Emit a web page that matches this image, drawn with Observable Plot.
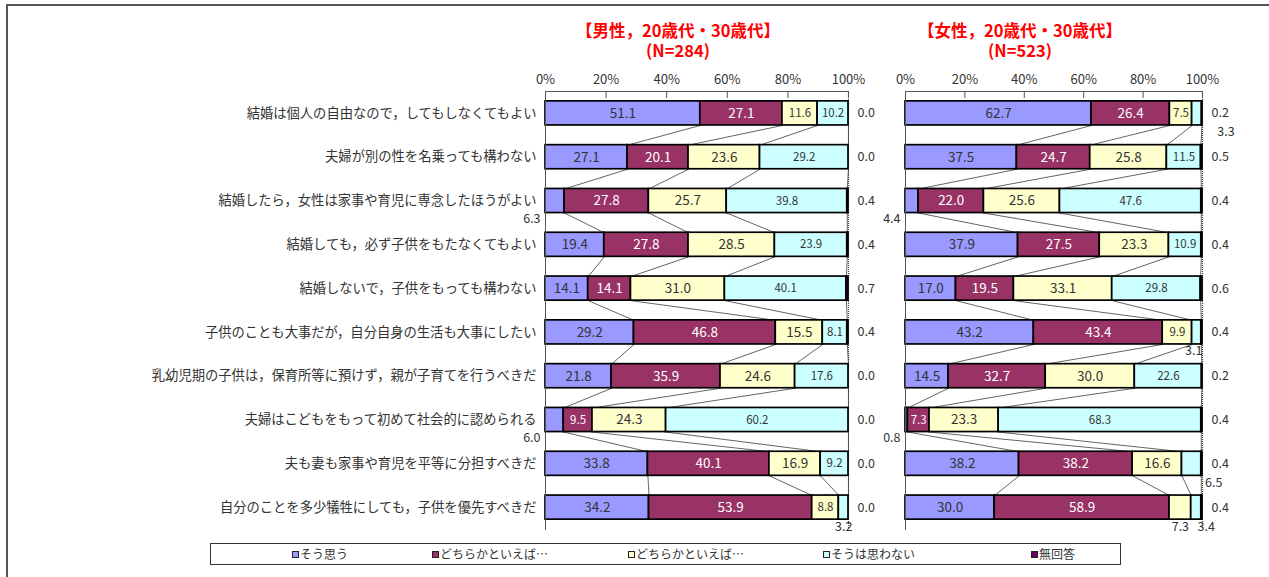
<!DOCTYPE html>
<html>
<head>
<meta charset="utf-8">
<script src="https://cdn.jsdelivr.net/npm/d3@7"></script>
<script src="https://cdn.jsdelivr.net/npm/@observablehq/plot@0.6"></script>
<style>
  html, body { margin: 0; padding: 0; background: #fff; }
  #wrap { position: relative; width: 1269px; height: 577px; overflow: hidden; font-family: "Noto Sans CJK JP", "Noto Sans", sans-serif; color: #333; }
  #frame { position: absolute; left: 6px; top: 4px; width: 1300px; height: 600px; border-left: 2px solid #555; border-top: 2px solid #555; }
  .panel { position: absolute; top: 0; }
  .title { position: absolute; top: 20px; width: 300px; margin-left: -150px; text-align: center; color: #ff0000; font-weight: bold; font-size: 16.5px; line-height: 20px; white-space: pre; }
  #legend { position: absolute; left: 210px; top: 543px; width: 911px; height: 22px; border: 1px solid #333; box-sizing: border-box; font-size: 12px; }
  .item { position: absolute; top: 0; height: 20px; line-height: 20px; white-space: nowrap; }
  .sw { display: inline-block; width: 5px; height: 5px; border: 1px solid #222; margin-right: 1px; vertical-align: 1px; }
</style>
</head>
<body>
<div id="wrap">
  <div id="frame"></div>
</div>
<script>
// ---- data ----
const STATEMENTS = [
  "結婚は個人の自由なので，してもしなくてもよい",
  "夫婦が別の性を名乗っても構わない",
  "結婚したら，女性は家事や育児に専念したほうがよい",
  "結婚しても，必ず子供をもたなくてもよい",
  "結婚しないで，子供をもっても構わない",
  "子供のことも大事だが，自分自身の生活も大事にしたい",
  "乳幼児期の子供は，保育所等に預けず，親が子育てを行うべきだ",
  "夫婦はこどもをもって初めて社会的に認められる",
  "夫も妻も家事や育児を平等に分担すべきだ",
  "自分のことを多少犠牲にしても，子供を優先すべきだ"
];
const CATEGORIES = ["そう思う", "どちらかといえば…", "どちらかといえば…", "そうは思わない", "無回答"];
const TICKS = [0, 20, 40, 60, 80, 100];

const MEN_TITLE = "【男性，20歳代・30歳代】";
const MEN_N = "(N=284)";
const MEN_AGREE          = [51.1, 27.1,  6.3, 19.4, 14.1, 29.2, 21.8,  6.0, 33.8, 34.2];
const MEN_RATHER_AGREE   = [27.1, 20.1, 27.8, 27.8, 14.1, 46.8, 35.9,  9.5, 40.1, 53.9];
const MEN_RATHER_DISAGREE= [11.6, 23.6, 25.7, 28.5, 31.0, 15.5, 24.6, 24.3, 16.9,  8.8];
const MEN_DISAGREE       = [10.2, 29.2, 39.8, 23.9, 40.1,  8.1, 17.6, 60.2,  9.2,  3.2];
const MEN_NO_ANSWER      = [ 0.0,  0.0,  0.4,  0.4,  0.7,  0.4,  0.0,  0.0,  0.0,  0.0];

const WOMEN_TITLE = "【女性，20歳代・30歳代】";
const WOMEN_N = "(N=523)";
const WOMEN_AGREE          = [62.7, 37.5,  4.4, 37.9, 17.0, 43.2, 14.5,  0.8, 38.2, 30.0];
const WOMEN_RATHER_AGREE   = [26.4, 24.7, 22.0, 27.5, 19.5, 43.4, 32.7,  7.3, 38.2, 58.9];
const WOMEN_RATHER_DISAGREE= [ 7.5, 25.8, 25.6, 23.3, 33.1,  9.9, 30.0, 23.3, 16.6,  7.3];
const WOMEN_DISAGREE       = [ 3.3, 11.5, 47.6, 10.9, 29.8,  3.1, 22.6, 68.3,  6.5,  3.4];
const WOMEN_NO_ANSWER      = [ 0.2,  0.5,  0.4,  0.4,  0.6,  0.4,  0.2,  0.4,  0.4,  0.4];

// ---- styling (not data) ----
const COLORS = ["#9999ff", "#993366", "#ffffcc", "#ccffff", "#660066"];
const FONT = "'Noto Sans CJK JP', 'Noto Sans', sans-serif";
const HALF = 0.275; // half bar thickness in row units

// labels drawn outside their segment: key "row-series"
const MEN_OUTSIDE = { "2-0": {mode: "left"}, "7-0": {mode: "left"}, "9-3": {mode: "below", dx: 0} };
const WOMEN_OUTSIDE = {
  "2-0": {mode: "left"}, "7-0": {mode: "left"},
  "0-3": {mode: "below", dx: 29}, "5-3": {mode: "below", dx: -3},
  "8-3": {mode: "below", dx: 22}, "9-2": {mode: "below", dx: 0}, "9-3": {mode: "below", dx: 10}
};

function buildSegments(series) {
  const segs = [];
  const bounds = [];
  STATEMENTS.forEach((_, i) => {
    const vals = series.map(s => s[i]);
    const total = d3.sum(vals);
    let c = 0;
    const b = [];
    vals.forEach((v, k) => {
      const x1 = c / total * 100;
      c += v;
      const x2 = c / total * 100;
      segs.push({row: i, k, v, x1, x2, mid: (x1 + x2) / 2});
      b.push(x2);
    });
    bounds.push(b);
  });
  return {segs, bounds};
}

function panel(series, opts) {
  const {segs, bounds} = buildSegments(series);
  const links = [];
  for (let i = 0; i < STATEMENTS.length - 1; i++) {
    for (let k = 0; k < 4; k++) {
      links.push({x1: bounds[i][k], y1: i + HALF, x2: bounds[i + 1][k], y2: i + 1 - HALF});
    }
  }
  const outside = opts.outside;
  const main = segs.filter(d => d.k < 4);
  const inside = main.filter(d => !outside[`${d.row}-${d.k}`]);
  const outs = main.filter(d => outside[`${d.row}-${d.k}`]);
  const na = segs.filter(d => d.k === 4);

  const marks = [
    Plot.link(links, {x1: "x1", y1: "y1", x2: "x2", y2: "y2", stroke: "#222", strokeWidth: 0.7}),
    Plot.ruleX([100], {stroke: "#444", strokeWidth: 1.2, strokeDasharray: "1,1"}),
    Plot.rect(segs, {x1: "x1", x2: "x2", y1: d => d.row - HALF, y2: d => d.row + HALF,
      fill: d => COLORS[d.k], stroke: "#000", strokeWidth: 1.7}),
    Plot.frame({anchor: "top", stroke: "#555"}),
    Plot.frame({anchor: "left", stroke: "#555"}),
    Plot.axisX(TICKS, {anchor: "top", tickFormat: d => d + "%", tickSize: -6, tickPadding: 14,
      fontSize: 13, stroke: "#555", fill: "#333"}),
    Plot.text(inside, {x: "mid", y: "row", text: d => d.v.toFixed(1),
      fill: d => d.k === 1 ? "#ffffff" : "#333333",
      fontSize: d => (d.k === 3 || d.v < 12) ? 11.5 : 13.5}),
    Plot.text(na, {x: 100, y: "row", text: d => d.v.toFixed(1), textAnchor: "start", dx: 9,
      fill: "#333", fontSize: 12.5})
  ];
  outs.forEach(d => {
    const o = outside[`${d.row}-${d.k}`];
    if (o.mode === "left") {
      marks.push(Plot.text([d], {x: 0, y: r => r.row + HALF, text: r => r.v.toFixed(1),
        textAnchor: "end", dx: -5, dy: 6, fill: "#333", fontSize: 12.5}));
    } else {
      marks.push(Plot.text([d], {x: "mid", y: r => r.row + HALF, text: r => r.v.toFixed(1),
        lineAnchor: "top", dy: 2, dx: o.dx, fill: "#333", fontSize: 12.5}));
    }
  });
  if (opts.yAxis) {
    marks.push(Plot.axisY(d3.range(STATEMENTS.length), {tickFormat: i => STATEMENTS[i],
      tickSize: 0, tickPadding: 9, fontSize: 13.3, fill: "#333"}));
  }
  return Plot.plot({
    width: opts.width, height: 540,
    marginLeft: opts.marginLeft, marginRight: opts.marginRight,
    marginTop: 91, marginBottom: 11,
    x: {domain: [0, 100], axis: null},
    y: {domain: [-0.5, STATEMENTS.length - 0.5], reverse: true, axis: null},
    style: {fontFamily: FONT, fontSize: "13px", color: "#333", background: "transparent", overflow: "visible"},
    marks
  });
}

const wrap = document.getElementById("wrap");

const men = panel([MEN_AGREE, MEN_RATHER_AGREE, MEN_RATHER_DISAGREE, MEN_DISAGREE, MEN_NO_ANSWER],
  {width: 880, marginLeft: 545, marginRight: 32, yAxis: true, outside: MEN_OUTSIDE});
men.classList.add("panel"); men.style.left = "0px"; men.style.position = "absolute";
wrap.appendChild(men);

const women = panel([WOMEN_AGREE, WOMEN_RATHER_AGREE, WOMEN_RATHER_DISAGREE, WOMEN_DISAGREE, WOMEN_NO_ANSWER],
  {width: 389, marginLeft: 25, marginRight: 67, yAxis: false, outside: WOMEN_OUTSIDE});
women.classList.add("panel"); women.style.left = "880px"; women.style.position = "absolute";
wrap.appendChild(women);

function addTitle(lines, x) {
  const d = document.createElement("div");
  d.className = "title"; d.textContent = lines.join("\n");
  d.style.left = x + "px";
  wrap.appendChild(d);
}
addTitle([MEN_TITLE, MEN_N], 678);
addTitle([WOMEN_TITLE, WOMEN_N], 1020);

const legend = document.createElement("div");
legend.id = "legend";
const LEG_X = [81, 221, 417, 612, 820];
CATEGORIES.forEach((c, k) => {
  const it = document.createElement("div");
  it.className = "item"; it.style.left = LEG_X[k] + "px";
  const sw = document.createElement("span");
  sw.className = "sw"; sw.style.background = COLORS[k];
  it.appendChild(sw);
  it.appendChild(document.createTextNode(c));
  legend.appendChild(it);
});
wrap.appendChild(legend);
</script>
</body>
</html>
